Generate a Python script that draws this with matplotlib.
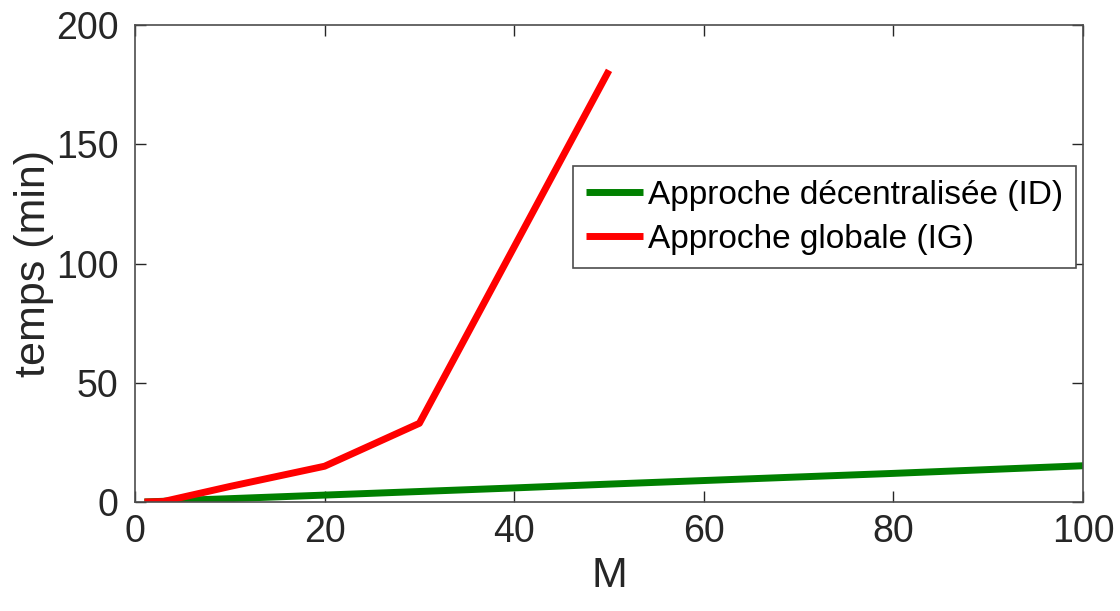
import matplotlib
matplotlib.use("Agg")
import matplotlib.pyplot as plt

plt.rcParams['font.family'] = ['Liberation Sans', 'DejaVu Sans']

# Data
m_id = [1, 3, 5, 10, 20, 30, 40, 50, 60, 70, 80, 90, 100]
t_id = [0.0, 0.3, 0.7, 1.4, 2.9, 4.4, 5.9, 7.5, 9.0, 10.5, 12.0, 13.6, 15.2]
m_ig = [1, 3, 5, 10, 20, 30, 40, 50]
t_ig = [0.0, 0.2, 2.0, 6.5, 15.0, 33.0, 107.0, 181.0]
label_id = "Approche décentralisée (ID)"
label_ig = "Approche globale (IG)"
xticks = [0, 20, 40, 60, 80, 100]
yticks = [0, 50, 100, 150, 200]

axc = '#262626'
fig = plt.figure(figsize=(11.2, 6.11), dpi=100)
ax = fig.add_axes([0.1205, 0.1784, 0.8465, 0.7806])
ax.plot(m_id, t_id, color='#008000', lw=5, label=label_id, solid_capstyle='butt')
ax.plot(m_ig, t_ig, color='#ff0000', lw=5, label=label_ig, solid_capstyle='butt')
ax.set_xlim(0, 100)
ax.set_ylim(0, 200)
ax.set_xticks(xticks)
ax.set_yticks(yticks)
ax.tick_params(direction='in', length=8, width=1, top=True, right=True,
               labelsize=27, colors=axc)
ax.tick_params(axis='y', pad=12)
ax.tick_params(axis='x', pad=9)
for s in ax.spines.values():
    s.set_color('#4d4d4d')
    s.set_linewidth(1.2)
ax.set_xlabel('M', fontsize=31, color=axc, labelpad=4)
ax.set_ylabel('temps (min)', fontsize=31, color=axc, labelpad=1.5)
leg = ax.legend(loc='upper right', bbox_to_anchor=(0.993, 0.704), fontsize=24,
                frameon=True, fancybox=False, framealpha=1, edgecolor='#4d4d4d',
                handlelength=1.7, handletextpad=0.15, borderpad=0.4, labelspacing=0.4,
                borderaxespad=0)
leg.get_frame().set_linewidth(1.2)
fig.savefig('out.png', dpi=100)
